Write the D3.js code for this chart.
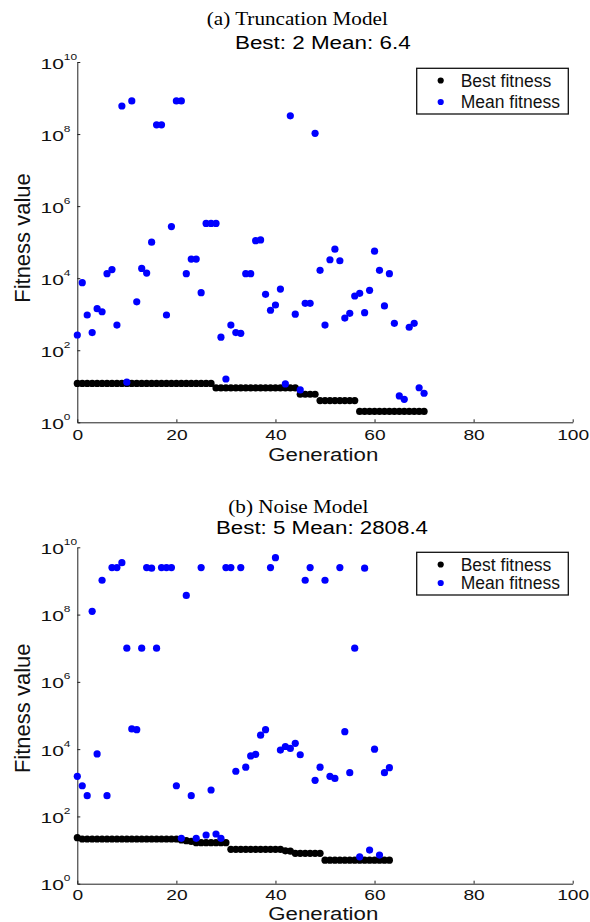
<!DOCTYPE html>
<html lang="en">
<head>
<meta charset="UTF-8">
<title>Fitness per generation</title>
<style>
  body { margin: 0; background: #fff; }
  svg { display: block; }
</style>
</head>
<body>
<div class="chart"></div>
<script src="https://d3js.org/d3.v7.min.js"></script>
<script>
// ---- data ----
const xTicks = [0, 20, 40, 60, 80, 100];
const yTickExponents = [0, 2, 4, 6, 8, 10];
const legendLabels = ["Best fitness", "Mean fitness"];
const panelTitles = ["(a) Truncation Model", "(b) Noise Model"];
const panelSubtitles = ["Best: 2 Mean: 6.4", "Best: 5 Mean: 2808.4"];

// (a) truncation model, generations 0..70
const bestTruncation = [
  12, 12, 12, 12, 12, 12, 12, 12, 12, 12, 12, 12, 12, 12, 12, 12, 12, 12, 12, 12,
  12, 12, 12, 12, 12, 12, 12, 12, 9, 9, 9, 9, 9, 9, 9, 9, 9, 9, 9, 9,
  9, 9, 9, 9, 9, 6, 6, 6, 6, 4, 4, 4, 4, 4, 4, 4, 4, 2, 2, 2,
  2, 2, 2, 2, 2, 2, 2, 2, 2, 2, 2
];
const meanTruncation = [
  265, 7500, 950, 310, 1420, 1170, 13300, 17300, 500, 6.0e8,
  13, 8.3e8, 2200, 18700, 13900, 1.0e5, 1.8e8, 1.8e8, 950, 2.7e5,
  8.3e8, 8.3e8, 13300, 34000, 34000, 3950, 3.3e5, 3.3e5, 3.3e5, 230,
  15.9, 500, 310, 295, 13300, 13300, 1.1e5, 1.15e5, 3560, 1290,
  1800, 5000, 11.6, 3.2e8, 1000, 7.9, 2000, 2000, 1.05e8, 16500,
  500, 32500, 64000, 30500, 780, 1060, 3200, 3800, 1100, 4600,
  56000, 16500, 1700, 13300, 560, 5.4, 4.35, 435, 560, 9.1,
  6.4
];

// (b) noise model, generations 0..63
const bestNoise = [
  23.4, 21.3, 21.3, 21.3, 21.3, 21.3, 21.3, 21.3, 21.3, 21.3,
  21.3, 21.3, 21.3, 21.3, 21.3, 21.3, 21.3, 21.3, 21.3, 21.3,
  21.3, 20, 19, 18, 16.6, 16.6, 16.6, 16.6, 16.6, 16.6,
  16.6, 10.5, 10.5, 10.5, 10.5, 10.5, 10.5, 10.5, 10.5, 10.5,
  10.5, 10.5, 9.5, 9.3, 8, 8, 8, 8, 8, 8,
  5, 5, 5, 5, 5, 5, 5, 5, 5, 5,
  5, 5, 5, 5
];
const meanNoise = [
  1560, 815, 415, 1.25e8, 7200, 1.05e9, 415, 2.5e9, 2.5e9, 3.5e9,
  1.0e7, 40000, 38000, 1.0e7, 2.5e9, 2.4e9, 1.0e7, 2.5e9, 2.5e9, 2.5e9,
  815, 22.4, 3.7e8, 415, 22.4, 2.5e9, 28, 610, 30, 22.4,
  2.5e9, 2.5e9, 2200, 2.5e9, 2900, 6300, 7000, 26000, 38000, 2.5e9,
  4.9e9, 9400, 12000, 10500, 14900, 6800, 1.05e9, 2.5e9, 1180, 2900,
  1.05e9, 1560, 1350, 2.5e9, 33000, 2000, 1.0e7, 6.3, 2.4e9, 10,
  10000, 7.1, 2000, 2808.4
];

const width = 590, height = 922;
const left = 77.3, right = 572.7;
const sans = "'Liberation Sans', Arial, Helvetica, sans-serif";
const serif = "'Liberation Serif', 'Times New Roman', serif";
const colors = ["#000000", "#0000ff"];

const svg = d3.select(".chart").append("svg")
  .attr("width", width)
  .attr("height", height)
  .style("background", "#fff");

const panels = [
  { best: bestTruncation, mean: meanTruncation, title: panelTitles[0], sub: panelSubtitles[0],
    top: 62, bottom: 422.3, titleX: 297.3, titleY: 24.7, titleLen: 181,
    subX: 322.8, subY: 48.7, subLen: 175.7, legendY: 68.3, legendH: 45.7,
    tickY: 17.7, genY: 460.7, labelY: 238 },
  { best: bestNoise, mean: meanNoise, title: panelTitles[1], sub: panelSubtitles[1],
    top: 547.3, bottom: 883.7, titleX: 298.3, titleY: 513.3, titleLen: 140,
    subX: 322, subY: 534, subLen: 212, legendY: 552.3, legendH: 42.7,
    tickY: 16, genY: 919.5, labelY: 708.3 }
];

panels.forEach(drawPanel);

function drawPanel(p) {
  const g = svg.append("g");

  const x = d3.scaleLinear().domain([0, 100]).range([left, right]);
  const y = d3.scaleLog().domain([1, 1e10]).range([p.bottom, p.top]);

  // titles
  g.append("text")
    .attr("x", p.titleX).attr("y", p.titleY)
    .attr("text-anchor", "middle")
    .attr("font-family", serif).attr("font-size", 19)
    .attr("textLength", p.titleLen).attr("lengthAdjust", "spacingAndGlyphs")
    .text(p.title);
  g.append("text")
    .attr("x", p.subX).attr("y", p.subY)
    .attr("text-anchor", "middle")
    .attr("font-family", sans).attr("font-size", 18)
    .attr("textLength", p.subLen).attr("lengthAdjust", "spacingAndGlyphs")
    .text(p.sub);

  // x axis
  const xAxis = d3.axisBottom(x)
    .tickValues(xTicks)
    .tickSize(-3)
    .tickSizeOuter(0)
    .tickFormat(d3.format("d"));
  const xg = g.append("g")
    .attr("transform", `translate(0,${p.bottom})`)
    .call(xAxis);
  xg.select(".domain").attr("stroke", "#222");
  xg.selectAll(".tick line").attr("stroke", "#222");
  xg.selectAll(".tick text")
    .attr("y", 0).attr("dy", null)
    .attr("transform", `translate(0,${p.tickY}) scale(1.28,1)`)
    .attr("font-family", sans).attr("font-size", 15).attr("fill", "#111");

  // y axis (log)
  const yAxis = d3.axisLeft(y)
    .tickValues(yTickExponents.map(e => Math.pow(10, e)))
    .tickSize(-3)
    .tickSizeOuter(0)
    .tickFormat("");
  const yg = g.append("g")
    .attr("transform", `translate(${left},0)`)
    .call(yAxis);
  yg.select(".domain").attr("stroke", "#222");
  yg.selectAll(".tick line").attr("stroke", "#222");
  yg.selectAll(".tick text").remove();
  const lab = yg.selectAll(".tick").append("text")
    .attr("transform", "translate(-36.8,6) scale(1.4,1)")
    .attr("text-anchor", "start")
    .attr("font-family", sans).attr("fill", "#111");
  lab.append("tspan").attr("font-size", 15).text("10");
  lab.append("tspan").attr("font-size", 8.5).attr("dy", -9)
    .text(d => String(Math.round(Math.log10(d))));

  // axis titles
  g.append("text")
    .attr("transform", `translate(323.3,${p.genY}) scale(1.27,1)`)
    .attr("text-anchor", "middle")
    .attr("font-family", sans).attr("font-size", 17.5).attr("fill", "#111")
    .text("Generation");
  g.append("text")
    .attr("transform", `translate(29.5,${p.labelY}) rotate(-90)`)
    .attr("text-anchor", "middle")
    .attr("font-family", sans).attr("font-size", 22).attr("fill", "#111")
    .text("Fitness value");

  // dots: best first, mean on top
  [p.best, p.mean].forEach((series, k) => {
    g.append("g").selectAll("circle")
      .data(series)
      .join("circle")
      .attr("cx", (d, i) => x(i))
      .attr("cy", d => y(d))
      .attr("r", 3.6)
      .attr("fill", colors[k]);
  });

  // legend
  const lg = g.append("g").attr("transform", `translate(416.7,${p.legendY})`);
  lg.append("rect")
    .attr("width", 151.6).attr("height", p.legendH)
    .attr("fill", "#fff").attr("stroke", "#111").attr("stroke-width", 1.3);
  const rowY = [12.2, p.legendH - 12];
  legendLabels.forEach((name, k) => {
    lg.append("circle").attr("cx", 24).attr("cy", rowY[k]).attr("r", 3.1).attr("fill", colors[k]);
    lg.append("text")
      .attr("x", 44).attr("y", rowY[k] + 6.5)
      .attr("font-family", sans).attr("font-size", 17.5).attr("fill", "#111")
      .text(name);
  });
}
</script>
</body>
</html>
